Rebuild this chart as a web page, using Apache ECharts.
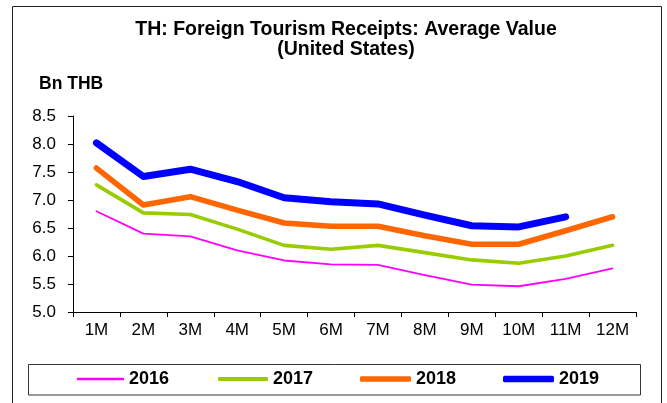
<!DOCTYPE html>
<html>
<head>
<meta charset="utf-8">
<style>
  html, body { margin: 0; padding: 0; background: #ffffff; }
  #chart { width: 667px; height: 403px; }
</style>
<script src="https://cdn.jsdelivr.net/npm/echarts@6/dist/echarts.min.js"></script>
</head>
<body>
<div id="chart"></div>
<script>
// Month categories along the x axis
const months = ['1M', '2M', '3M', '4M', '5M', '6M', '7M', '8M', '9M', '10M', '11M', '12M'];

// Average value of foreign tourism receipts (Bn THB), by year
const y2016 = [6.80, 6.40, 6.35, 6.10, 5.92, 5.85, 5.84, 5.66, 5.49, 5.46, 5.59, 5.78];
const y2017 = [7.27, 6.77, 6.74, 6.48, 6.19, 6.12, 6.19, 6.06, 5.93, 5.87, 6.00, 6.19];
const y2018 = [7.57, 6.91, 7.06, 6.82, 6.59, 6.53, 6.53, 6.36, 6.21, 6.21, 6.45, 6.70];
const y2019 = [8.02, 7.42, 7.55, 7.33, 7.04, 6.97, 6.93, 6.73, 6.54, 6.52, 6.70, null];

const yTicks = { min: 5.0, max: 8.5, step: 0.5 };

const FONT = '"Liberation Sans", Arial, sans-serif';

const seriesDefs = [
  { name: '2016', data: y2016, color: '#FF00FF', width: 1.8, legendH: 2.5, legendW: 47, legendX: 77 },
  { name: '2017', data: y2017, color: '#99CC00', width: 3.6, legendH: 4, legendW: 50, legendX: 218 },
  { name: '2018', data: y2018, color: '#FF6600', width: 5.6, legendH: 5.5, legendW: 51, legendX: 360 },
  { name: '2019', data: y2019, color: '#0000FF', width: 7, legendH: 6.5, legendW: 51, legendX: 503 }
];

const chart = echarts.init(document.getElementById('chart'), null, { renderer: 'canvas' });

const option = {
  backgroundColor: '#ffffff',
  animation: false,
  title: {
    text: 'TH: Foreign Tourism Receipts: Average Value\n(United States)',
    left: 346,
    textAlign: 'center',
    top: 20,
    padding: 0,
    textStyle: {
      fontFamily: FONT,
      fontWeight: 'bold',
      fontSize: 19.5,
      lineHeight: 20,
      color: '#000000'
    }
  },
  legend: seriesDefs.map(s => ({
    data: [{ name: s.name, icon: 'roundRect' }],
    left: s.legendX,
    top: 369,
    padding: 0,
    itemWidth: s.legendW,
    itemHeight: s.legendH,
    selectedMode: false,
    textStyle: {
      fontFamily: FONT,
      fontWeight: 'bold',
      fontSize: 18,
      lineHeight: 20,
      color: '#000000'
    }
  })),
  grid: {
    left: 73,
    right: 31,
    top: 116,
    bottom: 91,
    containLabel: false
  },
  xAxis: {
    type: 'category',
    data: months,
    boundaryGap: true,
    axisLine: { lineStyle: { color: '#000000', width: 1 } },
    axisTick: { show: true, alignWithLabel: false, length: 5, lineStyle: { color: '#000000' } },
    axisLabel: {
      fontFamily: FONT,
      fontSize: 17,
      color: '#000000',
      margin: 10,
      interval: 0
    },
    splitLine: { show: false }
  },
  yAxis: {
    type: 'value',
    min: yTicks.min,
    max: yTicks.max,
    interval: yTicks.step,
    axisLine: { show: true, lineStyle: { color: '#000000', width: 1 } },
    axisTick: { show: true, length: 5, lineStyle: { color: '#000000' } },
    axisLabel: {
      fontFamily: FONT,
      fontSize: 17,
      color: '#000000',
      margin: 17,
      formatter: v => v.toFixed(1)
    },
    splitLine: { show: false }
  },
  graphic: [
    {
      type: 'rect',
      shape: { x: 12.5, y: 6.5, width: 649, height: 420 },
      style: { fill: 'none', stroke: '#222222', lineWidth: 1 },
      silent: true,
      z: -1
    },
    {
      type: 'rect',
      shape: { x: 28.5, y: 364.5, width: 612, height: 30.5 },
      style: { fill: 'none', stroke: '#333333', lineWidth: 1 },
      silent: true,
      z: -1
    },
    {
      type: 'text',
      left: 39,
      top: 75,
      style: {
        text: 'Bn THB',
        fontFamily: FONT,
        fontWeight: 'bold',
        fontSize: 17.5,
        fill: '#000000'
      }
    }
  ],
  series: seriesDefs.map(s => ({
    name: s.name,
    type: 'line',
    data: s.data,
    symbol: 'none',
    connectNulls: false,
    color: s.color,
    lineStyle: { color: s.color, width: s.width, cap: 'round', join: 'round' },
    itemStyle: { color: s.color }
  }))
};

chart.setOption(option);
</script>
</body>
</html>
